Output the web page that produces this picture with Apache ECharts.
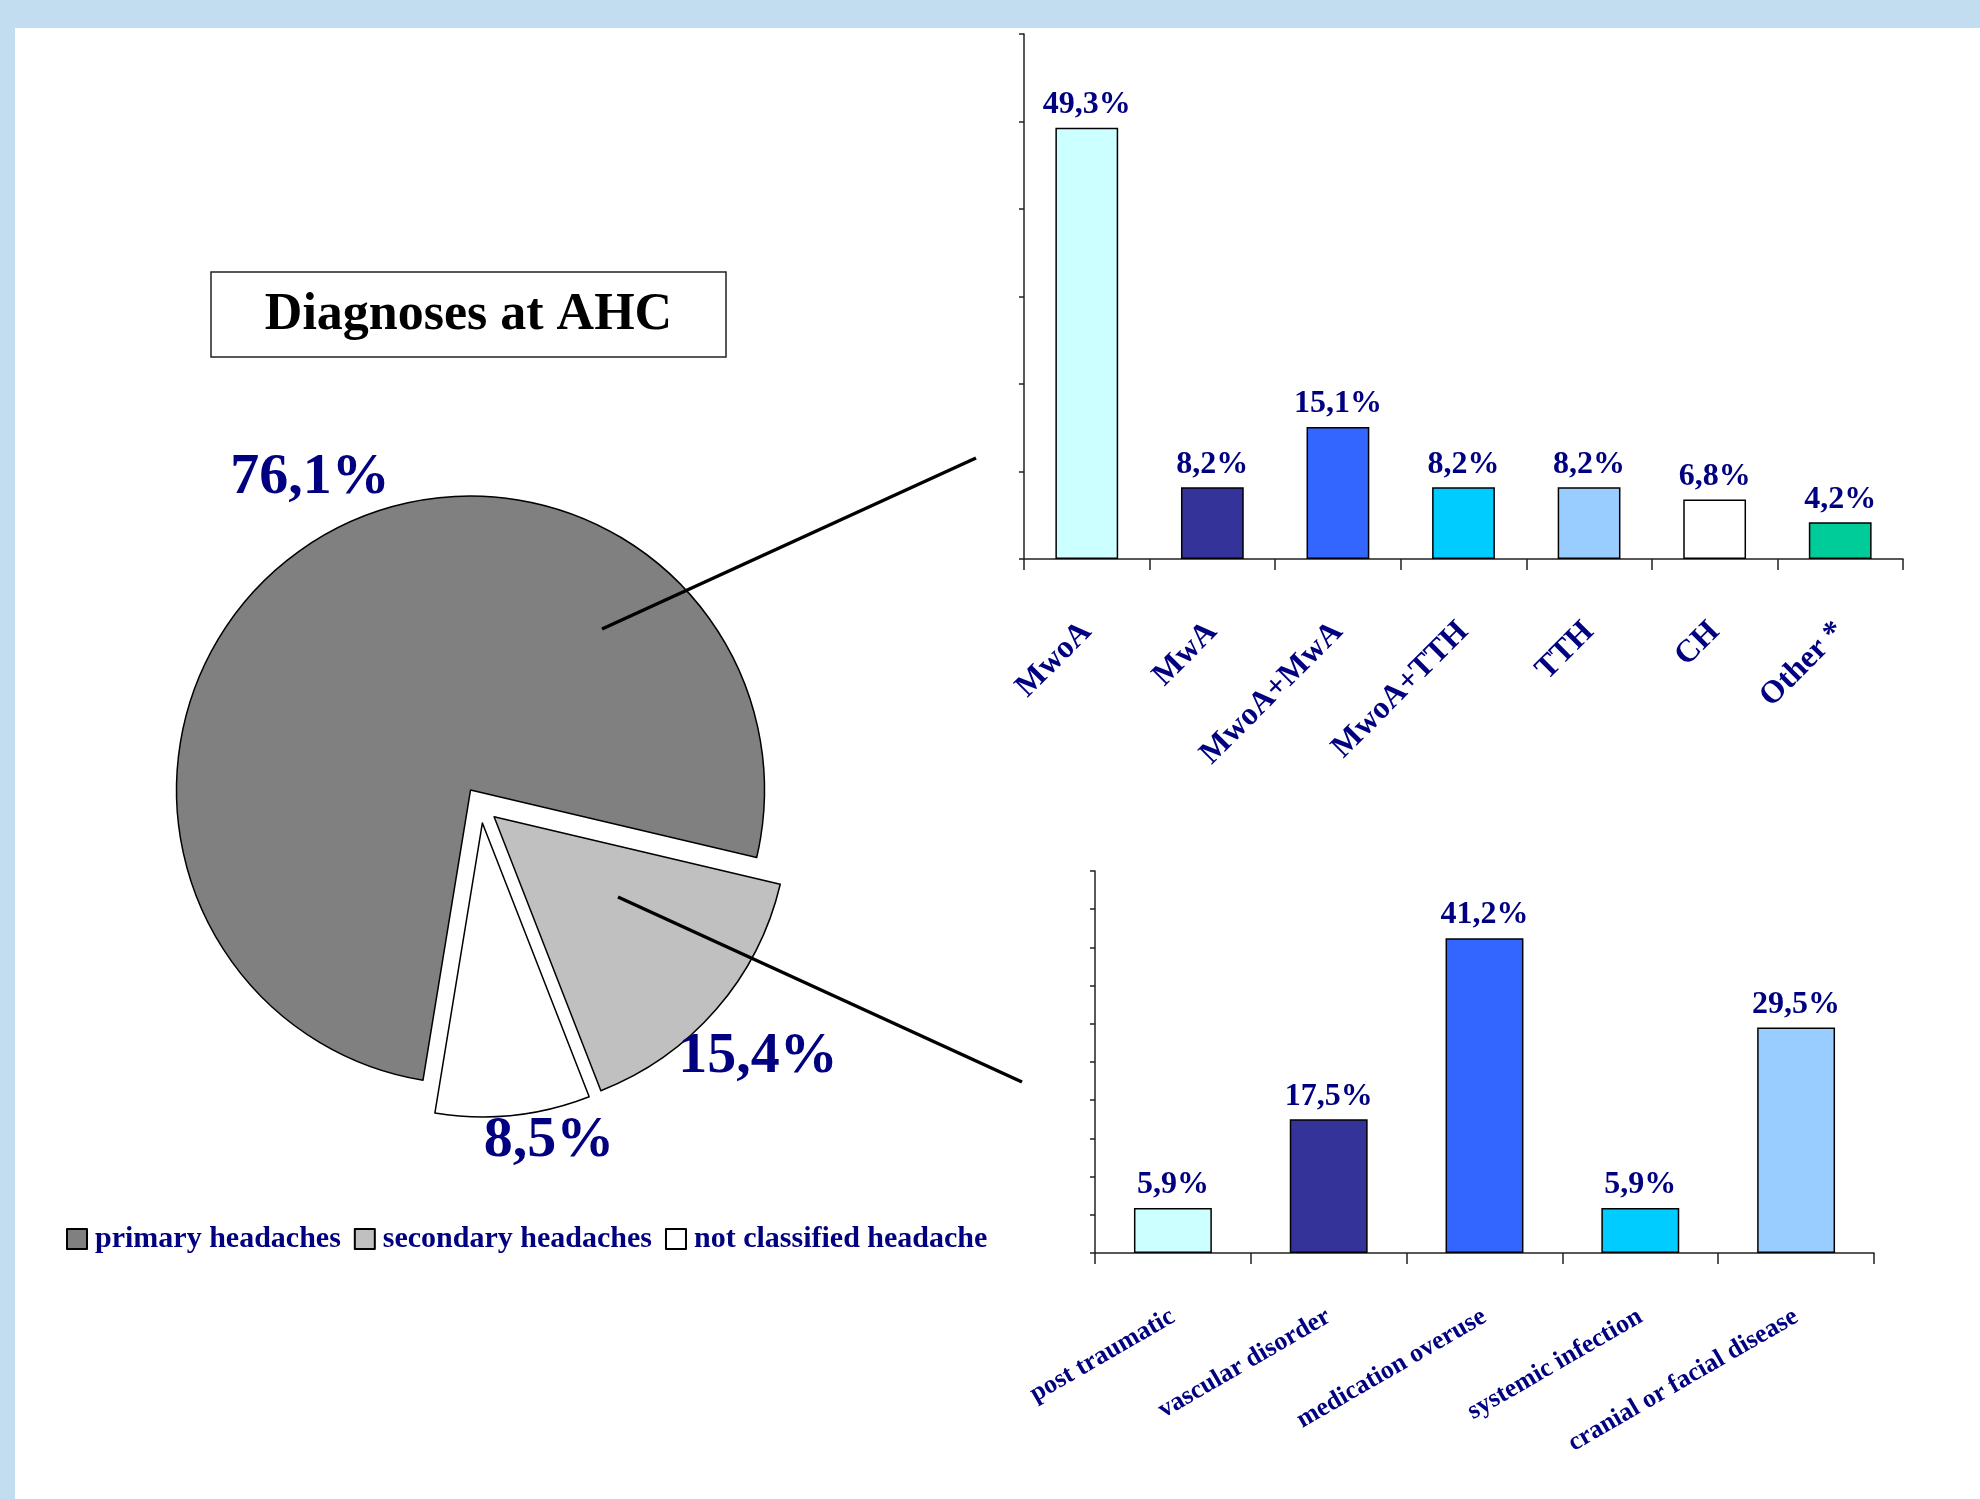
<!DOCTYPE html>
<html>
<head>
<meta charset="utf-8">
<script src="https://cdn.jsdelivr.net/npm/echarts@6/dist/echarts.min.js"></script>
<style>
html,body{margin:0;padding:0;background:#ffffff;}
#chart{width:1980px;height:1499px;}
</style>
</head>
<body>
<div id="chart"></div>
<script>
// ---- data ----
const pieNames = ['primary headaches', 'secondary headaches', 'not classified headache'];
const pieValues = [76.1, 15.4, 8.5];
const pieColors = ['#808080', '#c0c0c0', '#ffffff'];

const topCategories = ['MwoA', 'MwA', 'MwoA+MwA', 'MwoA+TTH', 'TTH', 'CH', 'Other *'];
const topValues = [49.3, 8.2, 15.1, 8.2, 8.2, 6.8, 4.2];
const topColors = ['#ccffff', '#333399', '#3366ff', '#00ccff', '#99ccff', '#ffffff', '#00cc99'];

const bottomCategories = ['post traumatic', 'vascular disorder', 'medication overuse', 'systemic infection', 'cranial or facial disease'];
const bottomValues = [5.9, 17.5, 41.2, 5.9, 29.5];
const bottomColors = ['#ccffff', '#333399', '#3366ff', '#00ccff', '#99ccff'];

const titleText = 'Diagnoses at AHC';

// ---- layout / style ----
const FONT = "'Liberation Serif', 'Times New Roman', serif";
const NAVY = '#000080';
const pieLabelPos = [[310, 478], [758, 1057], [549, 1141]];
const fmt = v => v.toFixed(1).replace('.', ',') + '%';

const chart = echarts.init(document.getElementById('chart'));

function barSeries(values, colors, xi) {
  return {
    type: 'bar',
    xAxisIndex: xi, yAxisIndex: xi,
    barWidth: '50%',
    data: values.map((v, i) => ({ value: v, itemStyle: { color: colors[i] } })),
    itemStyle: { borderColor: '#000', borderWidth: 1.5 },
    label: {
      show: true, position: 'top', distance: 7,
      fontFamily: FONT, fontWeight: 'bold', fontSize: 32, color: NAVY,
      formatter: p => fmt(p.value)
    },
    emphasis: { disabled: true }
  };
}

const axisLineStyle = { lineStyle: { color: '#222', width: 1.5 } };

const pieLabelGraphics = pieValues.map((v, i) => ({
  type: 'text', z: 100,
  x: pieLabelPos[i][0], y: pieLabelPos[i][1],
  style: {
    text: fmt(v), fontFamily: FONT, fontWeight: 'bold', fontSize: 58,
    fill: NAVY, align: 'center', verticalAlign: 'middle'
  }
}));

const option = {
  backgroundColor: '#ffffff',
  animation: false,
  grid: [
    { left: 1024, top: 34, width: 879, height: 525 },
    { left: 1095, top: 871, width: 779, height: 382 }
  ],
  xAxis: [
    {
      type: 'category', gridIndex: 0, data: topCategories,
      axisLine: axisLineStyle,
      axisTick: { show: true, length: 11, lineStyle: { color: '#222', width: 1.5 } },
      axisLabel: {
        interval: 0, rotate: 45, margin: 68,
        fontFamily: FONT, fontWeight: 'bold', fontSize: 32, color: NAVY
      }
    },
    {
      type: 'category', gridIndex: 1, data: bottomCategories,
      axisLine: axisLineStyle,
      axisTick: { show: true, length: 11, lineStyle: { color: '#222', width: 1.5 } },
      axisLabel: {
        interval: 0, rotate: 30, margin: 62,
        fontFamily: FONT, fontWeight: 'bold', fontSize: 26, color: NAVY
      }
    }
  ],
  yAxis: [
    {
      type: 'value', gridIndex: 0, min: 0, max: 60, interval: 10,
      axisLine: { show: true, lineStyle: { color: '#222', width: 1.5 } },
      axisTick: { show: true, length: 5, lineStyle: { color: '#222', width: 1.5 } },
      axisLabel: { show: false },
      splitLine: { show: false }
    },
    {
      type: 'value', gridIndex: 1, min: 0, max: 50, interval: 5,
      axisLine: { show: true, lineStyle: { color: '#222', width: 1.5 } },
      axisTick: { show: true, length: 5, lineStyle: { color: '#222', width: 1.5 } },
      axisLabel: { show: false },
      splitLine: { show: false }
    }
  ],
  legend: {
    data: pieNames,
    left: 66, top: 1224, padding: 0,
    orient: 'horizontal',
    icon: 'rect',
    itemWidth: 20, itemHeight: 20, itemGap: 13,
    textStyle: { fontFamily: FONT, fontWeight: 'bold', fontSize: 30, color: NAVY, padding: [0, 0, 0, 3] },
    selectedMode: false
  },
  series: [
    {
      type: 'pie',
      center: [480.5, 805],
      radius: 294,
      startAngle: 260.7,
      clockwise: true,
      selectedMode: 'multiple',
      selectedOffset: 18,
      avoidLabelOverlap: false,
      data: pieValues.map((v, i) => ({
        name: pieNames[i], value: v, selected: true,
        itemStyle: { color: pieColors[i] }
      })),
      itemStyle: { borderColor: '#000', borderWidth: 1.5 },
      select: { itemStyle: { borderColor: '#000', borderWidth: 1.5 } },
      emphasis: { disabled: true },
      label: { show: false },
      labelLine: { show: false }
    },
    barSeries(topValues, topColors, 0),
    barSeries(bottomValues, bottomColors, 1)
  ],
  graphic: [
    { type: 'rect', shape: { x: 0, y: 0, width: 1980, height: 28 }, style: { fill: '#c1ddef' }, silent: true },
    { type: 'rect', shape: { x: 0, y: 0, width: 15, height: 1499 }, style: { fill: '#c1ddef' }, silent: true },
    { type: 'rect', shape: { x: 211, y: 272, width: 515, height: 85 }, style: { fill: '#fff', stroke: '#222', lineWidth: 1.5 } },
    { type: 'text', x: 468.5, y: 316, style: { text: titleText, fontFamily: FONT, fontWeight: 'bold', fontSize: 52, fill: '#000', align: 'center', verticalAlign: 'middle' } },
    { type: 'line', z: 100, shape: { x1: 602, y1: 629, x2: 976, y2: 458 }, style: { stroke: '#000', lineWidth: 3.5 } },
    { type: 'line', z: 100, shape: { x1: 618, y1: 897, x2: 1022, y2: 1082 }, style: { stroke: '#000', lineWidth: 3.5 } }
  ].concat(pieLabelGraphics)
};
chart.setOption(option);
</script>
</body>
</html>
